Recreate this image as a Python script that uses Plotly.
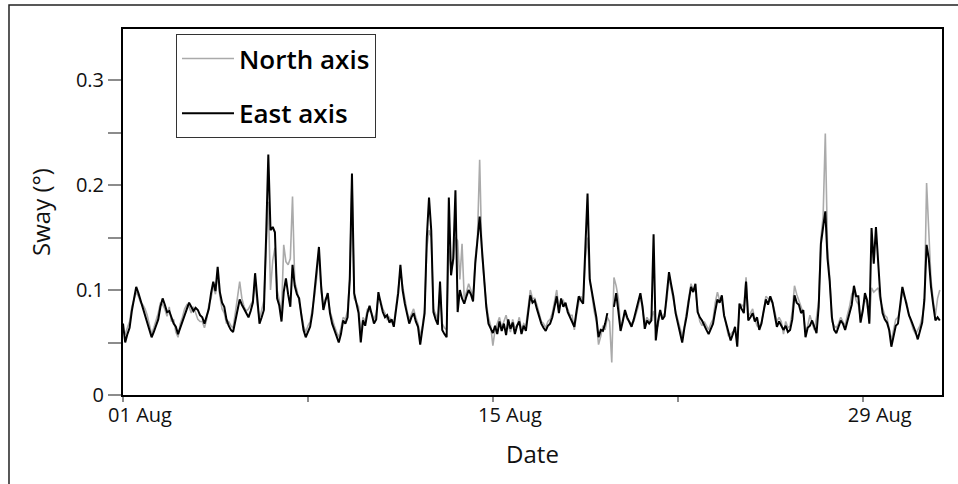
import pandas as pd
import plotly.graph_objects as go

# Two-hourly sway readings (degrees), 1-31 August; one row per day
north = [
    0.060, 0.058, 0.064, 0.070, 0.084, 0.090, 0.098, 0.094, 0.088, 0.086, 0.082, 0.076,
    0.066, 0.058, 0.064, 0.070, 0.078, 0.088, 0.086, 0.082, 0.075, 0.084, 0.070, 0.072,
    0.060, 0.055, 0.068, 0.074, 0.082, 0.086, 0.084, 0.078, 0.084, 0.078, 0.072, 0.070,
    0.070, 0.064, 0.072, 0.086, 0.092, 0.104, 0.096, 0.116, 0.094, 0.082, 0.078, 0.068,
    0.070, 0.066, 0.064, 0.078, 0.094, 0.108, 0.092, 0.084, 0.080, 0.082, 0.086, 0.090,
    0.108, 0.086, 0.072, 0.080, 0.090, 0.140, 0.184, 0.100, 0.128, 0.140, 0.100, 0.090,
    0.078, 0.143, 0.127, 0.124, 0.130, 0.189, 0.108, 0.100, 0.090, 0.078, 0.066, 0.060,
    0.066, 0.070, 0.082, 0.094, 0.112, 0.136, 0.098, 0.085, 0.092, 0.094, 0.080, 0.072,
    0.066, 0.060, 0.055, 0.064, 0.074, 0.072, 0.080, 0.112, 0.205, 0.092, 0.088, 0.084,
    0.056, 0.074, 0.070, 0.082, 0.080, 0.078, 0.072, 0.078, 0.094, 0.090, 0.082, 0.078,
    0.072, 0.074, 0.070, 0.068, 0.084, 0.102, 0.118, 0.104, 0.090, 0.080, 0.072, 0.078,
    0.082, 0.074, 0.068, 0.056, 0.066, 0.082, 0.140, 0.157, 0.150, 0.082, 0.076, 0.072,
    0.102, 0.068, 0.064, 0.062, 0.140, 0.120, 0.126, 0.150, 0.147, 0.110, 0.144, 0.092,
    0.098, 0.106, 0.100, 0.094, 0.130, 0.150, 0.224, 0.135, 0.110, 0.088, 0.074, 0.066,
    0.047, 0.062, 0.068, 0.074, 0.064, 0.070, 0.076, 0.066, 0.060, 0.072, 0.064, 0.066,
    0.074, 0.062, 0.068, 0.066, 0.084, 0.100, 0.092, 0.092, 0.086, 0.078, 0.070, 0.068,
    0.064, 0.070, 0.072, 0.078, 0.090, 0.100, 0.082, 0.088, 0.090, 0.084, 0.082, 0.076,
    0.076, 0.062, 0.076, 0.088, 0.094, 0.090, 0.130, 0.150, 0.110, 0.094, 0.080, 0.070,
    0.048, 0.056, 0.066, 0.062, 0.074, 0.070, 0.031, 0.112, 0.104, 0.092, 0.066, 0.072,
    0.078, 0.072, 0.070, 0.068, 0.070, 0.076, 0.084, 0.094, 0.080, 0.068, 0.074, 0.070,
    0.074, 0.080, 0.062, 0.066, 0.078, 0.074, 0.078, 0.090, 0.112, 0.100, 0.090, 0.080,
    0.072, 0.064, 0.056, 0.066, 0.078, 0.092, 0.106, 0.100, 0.100, 0.082, 0.070, 0.066,
    0.070, 0.066, 0.062, 0.068, 0.072, 0.088, 0.098, 0.090, 0.090, 0.076, 0.064, 0.056,
    0.058, 0.060, 0.062, 0.052, 0.082, 0.086, 0.084, 0.112, 0.075, 0.078, 0.082, 0.072,
    0.066, 0.064, 0.070, 0.080, 0.094, 0.092, 0.090, 0.088, 0.080, 0.070, 0.074, 0.070,
    0.058, 0.070, 0.064, 0.066, 0.080, 0.104, 0.096, 0.090, 0.086, 0.078, 0.060, 0.066,
    0.076, 0.068, 0.062, 0.074, 0.090, 0.150, 0.170, 0.249, 0.140, 0.112, 0.070, 0.066,
    0.064, 0.068, 0.074, 0.070, 0.066, 0.076, 0.084, 0.096, 0.100, 0.090, 0.086, 0.072,
    0.084, 0.092, 0.086, 0.070, 0.102, 0.098, 0.100, 0.102, 0.090, 0.082, 0.076, 0.074,
    0.064, 0.052, 0.062, 0.072, 0.074, 0.082, 0.098, 0.092, 0.088, 0.076, 0.068, 0.062,
    0.058, 0.062, 0.066, 0.074, 0.086, 0.202, 0.152, 0.110, 0.090, 0.076, 0.092, 0.100,
]

east = [
    0.068, 0.050, 0.058, 0.064, 0.080, 0.092, 0.103, 0.097, 0.090, 0.084, 0.078, 0.070,
    0.062, 0.055, 0.060, 0.066, 0.072, 0.084, 0.092, 0.086, 0.079, 0.080, 0.074, 0.068,
    0.065, 0.058, 0.064, 0.070, 0.078, 0.082, 0.088, 0.084, 0.080, 0.083, 0.081, 0.076,
    0.074, 0.068, 0.074, 0.082, 0.097, 0.108, 0.099, 0.122, 0.098, 0.088, 0.084, 0.072,
    0.066, 0.062, 0.060, 0.070, 0.078, 0.091, 0.086, 0.082, 0.078, 0.074, 0.080, 0.088,
    0.116, 0.092, 0.068, 0.074, 0.081, 0.150, 0.229, 0.157, 0.160, 0.155, 0.092, 0.085,
    0.070, 0.098, 0.111, 0.096, 0.084, 0.124, 0.104, 0.096, 0.092, 0.076, 0.062, 0.055,
    0.060, 0.065, 0.078, 0.098, 0.117, 0.141, 0.104, 0.081, 0.090, 0.097, 0.078, 0.068,
    0.062, 0.056, 0.050, 0.058, 0.071, 0.068, 0.074, 0.110, 0.211, 0.097, 0.086, 0.078,
    0.050, 0.071, 0.066, 0.078, 0.085, 0.076, 0.068, 0.072, 0.098, 0.088, 0.079, 0.074,
    0.076, 0.069, 0.072, 0.065, 0.080, 0.097, 0.124, 0.100, 0.087, 0.076, 0.068, 0.074,
    0.078, 0.070, 0.065, 0.048, 0.062, 0.078, 0.150, 0.188, 0.157, 0.079, 0.072, 0.067,
    0.108, 0.062, 0.058, 0.055, 0.188, 0.114, 0.130, 0.195, 0.079, 0.100, 0.092, 0.087,
    0.094, 0.100, 0.096, 0.089, 0.125, 0.148, 0.170, 0.140, 0.114, 0.084, 0.068, 0.064,
    0.059, 0.066, 0.058, 0.070, 0.061, 0.068, 0.057, 0.072, 0.063, 0.069, 0.058, 0.066,
    0.070, 0.058, 0.066, 0.061, 0.080, 0.095, 0.088, 0.090, 0.082, 0.074, 0.068, 0.064,
    0.061, 0.066, 0.068, 0.074, 0.086, 0.094, 0.078, 0.092, 0.084, 0.088, 0.079, 0.074,
    0.070, 0.065, 0.080, 0.094, 0.090, 0.087, 0.140, 0.192, 0.110, 0.097, 0.084, 0.074,
    0.055, 0.062, 0.061, 0.068, 0.078, None, None, 0.084, 0.097, 0.080, 0.061, 0.070,
    0.081, 0.074, 0.070, 0.065, 0.072, 0.081, 0.088, 0.097, 0.084, 0.063, 0.071, 0.068,
    0.071, 0.153, 0.052, 0.070, 0.081, 0.072, 0.075, 0.096, 0.117, 0.105, 0.094, 0.078,
    0.068, 0.060, 0.050, 0.064, 0.075, 0.090, 0.103, 0.098, 0.106, 0.079, 0.074, 0.071,
    0.066, 0.062, 0.058, 0.064, 0.068, 0.080, 0.091, 0.088, 0.095, 0.076, 0.068, 0.060,
    0.052, 0.058, 0.065, 0.046, 0.087, 0.082, 0.078, 0.108, 0.071, 0.074, 0.078, 0.070,
    0.074, 0.062, 0.068, 0.080, 0.091, 0.086, 0.094, 0.088, 0.076, 0.065, 0.070, 0.066,
    0.062, 0.066, 0.060, 0.062, 0.072, 0.095, 0.088, 0.086, 0.078, 0.081, 0.055, 0.064,
    0.066, 0.071, 0.064, 0.059, 0.084, 0.144, 0.160, 0.175, 0.130, 0.108, 0.074, 0.062,
    0.059, 0.066, 0.071, 0.068, 0.062, 0.070, 0.079, 0.086, 0.104, 0.094, 0.094, 0.069,
    0.080, 0.097, 0.090, 0.068, 0.159, 0.125, 0.160, 0.121, 0.094, 0.078, 0.072, 0.069,
    0.062, 0.046, 0.058, 0.066, 0.068, 0.086, 0.103, 0.094, 0.084, 0.076, 0.071, 0.066,
    0.060, 0.053, 0.062, 0.069, 0.091, 0.143, 0.130, 0.103, 0.086, 0.071, 0.074, 0.071,
]

times = pd.date_range("2023-08-01", periods=len(east), freq="2h")

x_tick_vals = ["2023-08-01", "2023-08-08", "2023-08-15", "2023-08-22", "2023-08-29"]
x_tick_text = ["01 Aug", "", "15 Aug", "", "29 Aug"]
y_tick_vals = [0, 0.05, 0.1, 0.15, 0.2, 0.25, 0.3]
y_tick_text = ["0", "", "0.1", "", "0.2", "", "0.3"]

X_RANGE = ["2023-08-01", "2023-09-01"]
Y_RANGE = [0, 0.3486]
FONT = "Open Sans"
TICK_GREY = "#8c8c8c"

fig = go.Figure()
fig.add_trace(go.Scatter(
    x=times, y=north, name="North axis", mode="lines",
    line=dict(color="#aaaaaa", width=1.6), legendgroup="n",
))
fig.add_trace(go.Scatter(
    x=times, y=east, name="East axis", mode="lines",
    line=dict(color="#000000", width=2), legendgroup="e",
    connectgaps=False,
))

fig.update_layout(
    width=958, height=484,
    margin=dict(l=123, r=16, t=29, b=89),
    paper_bgcolor="white", plot_bgcolor="white",
    font=dict(family=FONT, size=20, color="#111"),
    showlegend=True,
    legend=dict(
        x=0.0647, y=0.986, xanchor="left", yanchor="top",
        bordercolor="#333", borderwidth=1, bgcolor="white",
        font=dict(family=FONT, size=26, color="#000", weight=600),
        itemwidth=52, tracegroupgap=18, traceorder="grouped",
        valign="middle",
    ),
    xaxis=dict(
        type="date", range=X_RANGE,
        tickmode="array", tickvals=x_tick_vals, ticktext=x_tick_text,
        ticks="outside", ticklen=5, tickwidth=1.5, tickcolor=TICK_GREY,
        ticklabelshift=17, ticklabelstandoff=-4,
        showline=True, linecolor="#000", linewidth=2, mirror=True,
        showgrid=False, zeroline=False,
        tickfont=dict(size=20),
        title=dict(text="Date", font=dict(size=24), standoff=19),
    ),
    yaxis=dict(
        range=Y_RANGE,
        tickmode="array", tickvals=y_tick_vals, ticktext=y_tick_text,
        ticks="outside", ticklen=13, tickwidth=1.5, tickcolor=TICK_GREY,
        showline=True, linecolor="#000", linewidth=2, mirror=True,
        showgrid=False, zeroline=False,
        tickfont=dict(size=20),
        title=dict(text="Sway (°)", font=dict(size=24), standoff=18),
    ),
    # companion axes carry the inward half of each tick so ticks cross the frame
    xaxis2=dict(
        type="date", range=X_RANGE, overlaying="x", anchor="y", side="bottom",
        tickmode="array", tickvals=x_tick_vals, ticks="inside", ticklen=7,
        tickwidth=1.5, tickcolor=TICK_GREY, showticklabels=False,
        showline=False, showgrid=False, zeroline=False,
    ),
    yaxis2=dict(
        range=Y_RANGE, overlaying="y", anchor="x", side="left",
        tickmode="array", tickvals=y_tick_vals, ticks="inside", ticklen=12,
        tickwidth=1.5, tickcolor=TICK_GREY, showticklabels=False,
        showline=False, showgrid=False, zeroline=False,
    ),
    shapes=[dict(
        type="rect", xref="paper", yref="paper",
        x0=-0.1392, x1=1.03, y0=-0.27, y1=1.0656,
        line=dict(color="#222", width=1.5), fillcolor="rgba(0,0,0,0)",
        layer="below",
    )],
)

fig.write_html("out.html")
